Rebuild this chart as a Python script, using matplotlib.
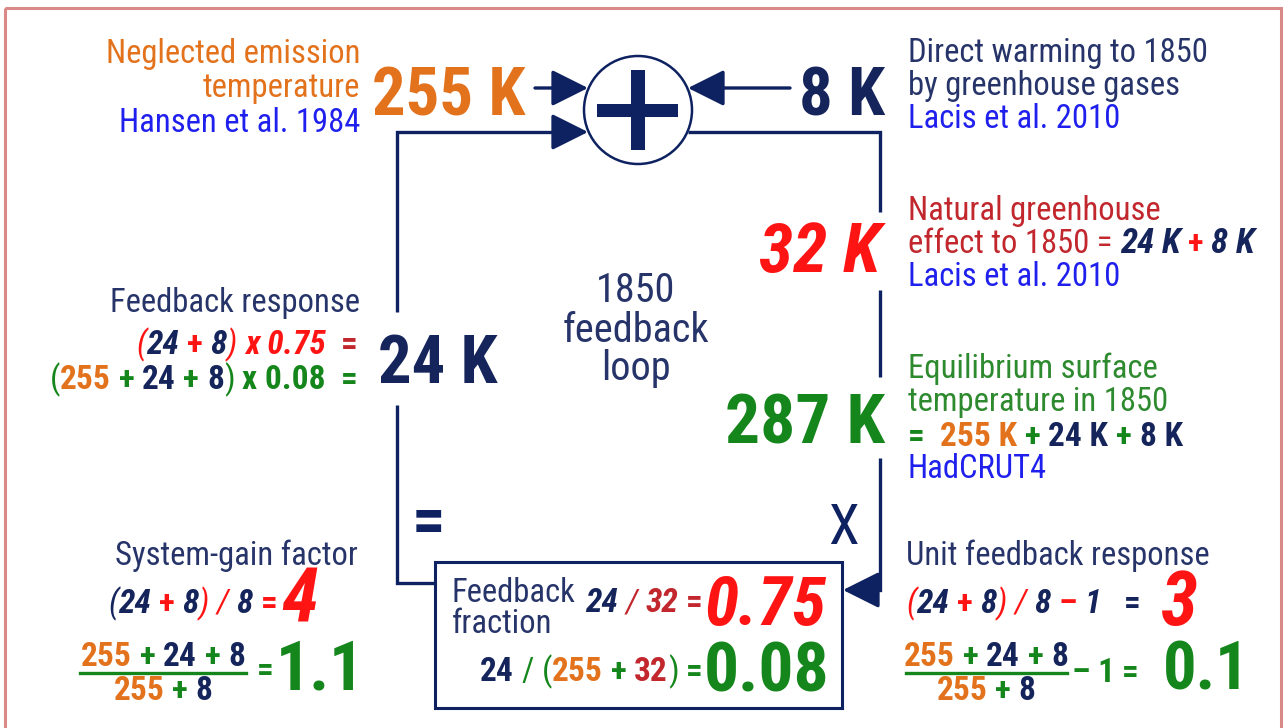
import matplotlib
matplotlib.use("Agg")
import matplotlib.pyplot as plt
from matplotlib import font_manager as fm
from matplotlib.font_manager import FontProperties
from matplotlib.patches import Circle, Rectangle, FancyArrowPatch

# ---------------- data (values shown in the diagram) ----------------
EMISSION_K = 255          # neglected emission temperature
DIRECT_K = 8              # direct warming by greenhouse gases
FEEDBACK_K = 24           # feedback response
NATURAL_K = 32            # natural greenhouse effect
EQUIL_K = 287             # equilibrium surface temperature 1850
FRACTIONS = ["0.75", "0.08"]     # feedback fraction (two estimates)
GAINS = ["4", "1.1"]             # system-gain factor
UNIT_RESP = ["3", "0.1"]         # unit feedback response
LEFT_TOP_LABEL = ["Neglected emission", "temperature"]
LEFT_TOP_CITE = "Hansen et al. 1984"
RIGHT_TOP_LABEL = ["Direct warming to 1850", "by greenhouse gases"]
RIGHT_TOP_CITE = "Lacis et al. 2010"
NATURAL_LABEL = ["Natural greenhouse", "effect to 1850 ="]
NATURAL_CITE = "Lacis et al. 2010"
EQUIL_LABEL = ["Equilibrium surface", "temperature in 1850"]
EQUIL_CITE = "HadCRUT4"
LOOP_LABEL = ["1850", "feedback", "loop"]
FEEDBACK_LABEL = "Feedback response"
GAIN_LABEL = "System-gain factor"
UNIT_LABEL = "Unit feedback response"
BOX_LABEL = ["Feedback", "fraction"]

# ---------------- style ----------------
names = {f.name for f in fm.fontManager.ttflist}
FONT = "Liberation Sans"
for cand in ["Arial Narrow", "Liberation Sans Narrow", "Roboto Condensed", "Archivo Narrow",
             "PT Sans Narrow", "Liberation Sans"]:
    if cand in names:
        FONT = cand
        break

NAVY = "#15255c"
LINEC = "#0e2160"
LABEL = "#26346a"
ORANGE = "#e3721d"
BLUE = "#2020ee"
RED = "#ff1414"
DRED = "#c1272d"
GREEN = "#15861b"
LGREEN = "#2e8a2e"
BORDER = "#d98a86"

W, H = 1287, 728
fig = plt.figure(figsize=(W / 100, H / 100), dpi=100)
ax = fig.add_axes([0, 0, 1, 1])
ax.set_xlim(0, W)
ax.set_ylim(H, 0)
ax.axis("off")
R = fig.canvas.get_renderer()


def fp(size, weight="normal", style="normal"):
    return FontProperties(family=FONT, size=size, weight=weight, style=style)


def tw(t, size, weight, style):
    p = fp(size, weight, style)
    w1 = R.get_text_width_height_descent("." + t + ".", p, ismath=False)[0]
    w0 = R.get_text_width_height_descent("..", p, ismath=False)[0]
    return w1 - w0


def S(t, c=None, b=True, i=False, size=None):
    return (t, c, "bold" if b else "normal", "italic" if i else "normal", size)


SP = S(" ")


def rich(x, y, segs, size, ha="left"):
    widths = [tw(t, sz or size, w, s) for t, c, w, s, sz in segs]
    total = sum(widths)
    x0 = x - total if ha == "right" else (x - total / 2 if ha == "center" else x)
    for (t, c, w, s, sz), wd in zip(segs, widths):
        if t.strip():
            ax.text(x0, y, t, color=c, fontproperties=fp(sz or size, w, s),
                    ha="left", va="baseline")
        x0 += wd
    return total


def txt(x, y, t, c, size, ha="left", weight="normal", style="normal", va="baseline"):
    ax.text(x, y, t, color=c, fontproperties=fp(size, weight, style), ha=ha, va=va)


LW = 2.4


def line(xs, ys):
    ax.plot(xs, ys, color=LINEC, lw=LW, solid_capstyle="butt", solid_joinstyle="miter")


def arrow(x0, y0, x1, y1):
    ax.add_patch(FancyArrowPatch((x0, y0), (x1, y1), arrowstyle="-|>,head_length=0.9,head_width=0.45",
                                 mutation_scale=25, color=LINEC, lw=LW, shrinkA=0, shrinkB=0))


# border
ax.add_patch(Rectangle((5, 8), 1276, 760, fill=False, ec=BORDER, lw=2.2))

# summing junction
cx, cy, r = 638, 110, 54
ax.add_patch(Circle((cx, cy), r, fc="white", ec=LINEC, lw=1.8, zorder=3))
ax.add_patch(Rectangle((597, 104), 81, 13, fc=LINEC, ec="none", zorder=4))
ax.add_patch(Rectangle((631, 70), 14, 80, fc=LINEC, ec="none", zorder=4))

# inputs
arrow(535, 88, 588, 88)
arrow(790, 88, 688, 88)
# loop
line([397, 397, 560], [312, 132, 132])
arrow(555, 132, 588, 132)
line([688, 880, 880], [132, 132, 212])
line([880, 880], [290, 377])
line([880, 880, 860], [458, 590, 590])
arrow(880, 590, 843, 590)
line([397, 397, 435], [405, 583, 583])

# feedback box
ax.add_patch(Rectangle((435, 562), 407, 146, fill=False, ec=LINEC, lw=2.2))

BIG = 48
LBL = 23.5
FS = 24

# top-left
txt(360, 63, LEFT_TOP_LABEL[0], ORANGE, LBL, ha="right")
txt(360, 97, LEFT_TOP_LABEL[1], ORANGE, LBL, ha="right")
txt(360, 132, LEFT_TOP_CITE, BLUE, LBL, ha="right")
txt(525, 115, f"{EMISSION_K} K", ORANGE, BIG, ha="right", weight="bold")

# top-right
txt(885, 115, f"{DIRECT_K} K", NAVY, BIG, ha="right", weight="bold")
txt(908, 62, RIGHT_TOP_LABEL[0], LABEL, LBL)
txt(908, 95, RIGHT_TOP_LABEL[1], LABEL, LBL)
txt(908, 128, RIGHT_TOP_CITE, BLUE, LBL)

# natural greenhouse
txt(880, 272, f"{NATURAL_K} K", RED, BIG + 2, ha="right", weight="bold", style="italic")
txt(908, 220, NATURAL_LABEL[0], DRED, LBL)
rich(908, 253, [S(NATURAL_LABEL[1], DRED, b=False), SP, S(f"{FEEDBACK_K} K", NAVY, i=True, size=25), SP,
                S("+", RED), SP, S(f"{DIRECT_K} K", NAVY, i=True, size=25)], LBL)
txt(908, 286, NATURAL_CITE, BLUE, LBL)

# loop label
for k, yy in enumerate([302, 342, 380]):
    txt(636, yy, LOOP_LABEL[k], LABEL, 29, ha="center")

# feedback response
txt(360, 312, FEEDBACK_LABEL, LABEL, LBL, ha="right")
rich(358, 354, [S("(", RED, b=False, i=True), S(f"{FEEDBACK_K}", NAVY, i=True), SP, S("+", RED), SP,
                S(f"{DIRECT_K}", NAVY, i=True), S(")", RED, b=False, i=True), SP,
                S(f"x {FRACTIONS[0]}", RED, i=True), SP, SP, S("=", DRED)], FS, ha="right")
rich(358, 389, [S("(", GREEN, b=False), S(f"{EMISSION_K}", ORANGE), SP, S("+", GREEN), SP,
                S(f"{FEEDBACK_K}", NAVY), SP, S("+", GREEN), SP, S(f"{DIRECT_K}", NAVY),
                S(")", GREEN, b=False), SP, S(f"x {FRACTIONS[1]}", GREEN), SP, SP, S("=", GREEN)],
     FS, ha="right")
txt(378, 383, f"{FEEDBACK_K} K", NAVY, BIG, weight="bold")

# equilibrium
txt(885, 443, f"{EQUIL_K} K", GREEN, BIG + 2, ha="right", weight="bold")
txt(908, 378, EQUIL_LABEL[0], LGREEN, LBL)
txt(908, 411, EQUIL_LABEL[1], LGREEN, LBL)
rich(908, 446, [S("=", GREEN), SP, SP, S(f"{EMISSION_K} K", ORANGE), SP, S("+", GREEN), SP,
                S(f"{FEEDBACK_K} K", NAVY), SP, S("+", GREEN), SP, S(f"{DIRECT_K} K", NAVY)], FS)
txt(908, 478, EQUIL_CITE, BLUE, LBL)

# operators on the loop
txt(428, 524, "=", LINEC, 48, ha="center", va="center", weight="bold")
txt(843, 529, "X", LINEC, 40, ha="center", va="center")

# system-gain factor
txt(358, 565, GAIN_LABEL, LABEL, LBL, ha="right")
rich(108, 613, [S("(", NAVY, b=False, i=True), S(f"{FEEDBACK_K}", NAVY, i=True), SP, S("+", RED), SP,
                S(f"{DIRECT_K}", NAVY, i=True), S(")", RED, b=False, i=True), SP,
                S("/", RED, b=False, i=True), SP, S(f"{DIRECT_K}", NAVY, i=True), SP, S("=", RED)], FS)
txt(281, 622, GAINS[0], RED, 54, weight="bold", style="italic")

num = [S(f"{EMISSION_K}", ORANGE), SP, S("+", GREEN), SP, S(f"{FEEDBACK_K}", NAVY), SP,
       S("+", GREEN), SP, S(f"{DIRECT_K}", NAVY)]
den = [S(f"{EMISSION_K}", ORANGE), SP, S("+", GREEN), SP, S(f"{DIRECT_K}", NAVY)]
rich(163, 666, num, FS, ha="center")
ax.plot([80, 246], [673, 673], color=GREEN, lw=2.4)
rich(163, 700, den, FS, ha="center")
txt(257, 680, "=", GREEN, FS, weight="bold")
txt(276, 690, GAINS[1], GREEN, 49, weight="bold")

# feedback fraction box
txt(452, 602, BOX_LABEL[0], LABEL, LBL)
txt(452, 633, BOX_LABEL[1], LABEL, LBL)
rich(703, 612, [S(f"{FEEDBACK_K}", NAVY, i=True), SP, S("/", DRED, b=False, i=True), SP,
                S(f"{NATURAL_K}", DRED, i=True), SP, S("=", DRED)], FS, ha="right")
txt(704, 625, FRACTIONS[0], RED, 50, weight="bold", style="italic")
rich(703, 681, [S(f"{FEEDBACK_K}", NAVY), SP, S("/", GREEN, b=False), SP, S("(", GREEN, b=False),
                S(f"{EMISSION_K}", ORANGE), SP, S("+", GREEN), SP, S(f"{NATURAL_K}", DRED),
                S(")", GREEN, b=False), SP, S("=", GREEN)], FS, ha="right")
txt(704, 692, FRACTIONS[1], GREEN, 50, weight="bold")

# unit feedback response
txt(906, 565, UNIT_LABEL, LABEL, LBL)
rich(906, 613, [S("(", RED, b=False, i=True), S(f"{FEEDBACK_K}", NAVY, i=True), SP, S("+", RED), SP,
                S(f"{DIRECT_K}", NAVY, i=True), S(")", RED, b=False, i=True), SP,
                S("/", RED, b=False, i=True), SP, S(f"{DIRECT_K}", NAVY, i=True), SP,
                S("\u2013", RED), SP, S("1", NAVY, i=True)], FS)
txt(1132, 613, "=", NAVY, FS, ha="center", weight="bold")
txt(1160, 625, UNIT_RESP[0], RED, 54, weight="bold", style="italic")
rich(986, 666, num, FS, ha="center")
ax.plot([906, 1067], [673, 673], color=GREEN, lw=2.4)
rich(986, 700, den, FS, ha="center")
rich(1071, 682, [S("\u2013", GREEN), SP, S("1", GREEN), SP, S("=", GREEN)], FS)
txt(1163, 690, UNIT_RESP[1], GREEN, 48, weight="bold")

fig.savefig("out.png", dpi=100)
